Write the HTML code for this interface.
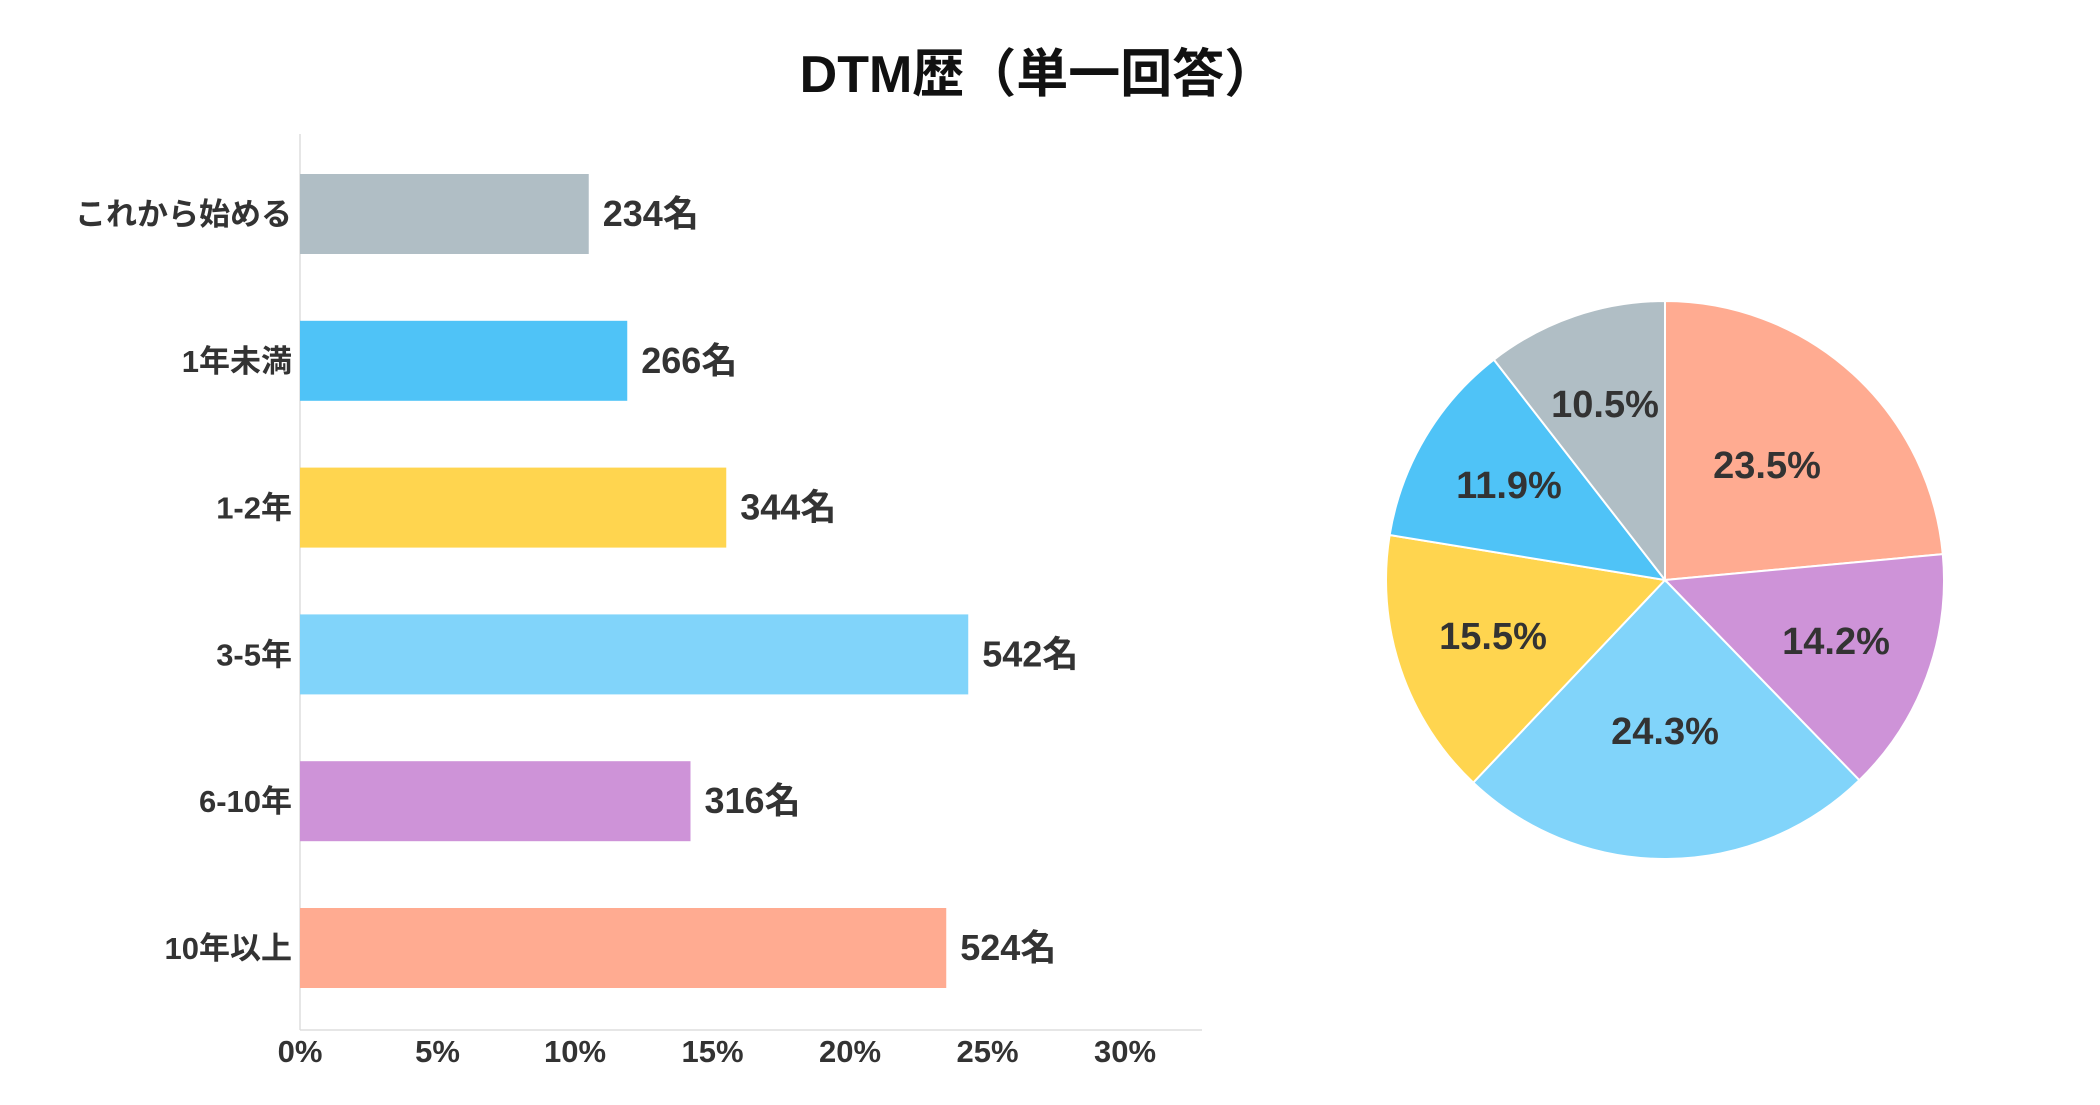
<!DOCTYPE html>
<html><head><meta charset="utf-8"><style>
body{margin:0;background:#fff;}
svg text{font-family:"Liberation Sans","Noto Sans CJK JP",sans-serif;font-weight:bold;fill:#333;}
</style></head><body>
<svg id="s" width="2100" height="1100" xmlns="http://www.w3.org/2000/svg">
<rect width="2100" height="1100" fill="#fff"/>
<text x="1038" y="92" font-size="52" text-anchor="middle" style="fill:#111">DTM歴（単一回答）</text>
<line x1="300" y1="134" x2="300" y2="1030" stroke="#ddd" stroke-width="1.5"/>
<line x1="300" y1="1030" x2="1202" y2="1030" stroke="#ddd" stroke-width="1.5"/>
<g id="bars"></g>
<g id="pie"></g>
</svg>
<script>
var NS="http://www.w3.org/2000/svg";
function el(p,t,a,txt){var e=document.createElementNS(NS,t);for(var k in a)e.setAttribute(k,a[k]);if(txt)e.textContent=txt;p.appendChild(e);return e;}
var data=[["これから始める",234,10.5,"#B0BEC5"],["1年未満",266,11.9,"#4FC3F7"],["1-2年",344,15.5,"#FFD54F"],["3-5年",542,24.3,"#81D4FA"],["6-10年",316,14.2,"#CE93D8"],["10年以上",524,23.5,"#FFAB91"]];
var b=document.getElementById("bars");
data.forEach(function(d,i){
 var cy=214+i*146.8, w=d[2]*27.5;
 el(b,"rect",{x:300,y:cy-40,width:w,height:80,fill:d[3]});
 el(b,"text",{x:292,y:cy+11,"font-size":31,"text-anchor":"end"},d[0]);
 el(b,"text",{x:300+w+14,y:cy+12,"font-size":36},d[1]+"名");
});
for(var t=0;t<=30;t+=5){el(b,"text",{x:300+t*27.5,y:1062,"font-size":31,"text-anchor":"middle"},t+"%");}
var p=document.getElementById("pie");
var cx=1665,cy=580,r=279;
var order=[[23.5,"#FFAB91",1767,465],[14.2,"#CE93D8",1836,641],[24.3,"#81D4FA",1665,731],[15.5,"#FFD54F",1493,636],[11.9,"#4FC3F7",1509,485],[10.5,"#B0BEC5",1605,404]];
var tot=99.9,a=0;
order.forEach(function(o){
 var a0=a/tot*2*Math.PI, a1=(a+o[0])/tot*2*Math.PI; a+=o[0];
 var x0=cx+r*Math.sin(a0),y0=cy-r*Math.cos(a0),x1=cx+r*Math.sin(a1),y1=cy-r*Math.cos(a1);
 el(p,"path",{d:"M"+cx+","+cy+"L"+x0+","+y0+"A"+r+","+r+" 0 "+((a1-a0)>Math.PI?1:0)+" 1 "+x1+","+y1+"Z",fill:o[1],stroke:"#fff","stroke-width":2});
});
order.forEach(function(o){
 el(p,"text",{x:o[2],y:o[3]+13,"font-size":38,"text-anchor":"middle"},o[0].toFixed(1)+"%");
});
</script>
</body></html>
